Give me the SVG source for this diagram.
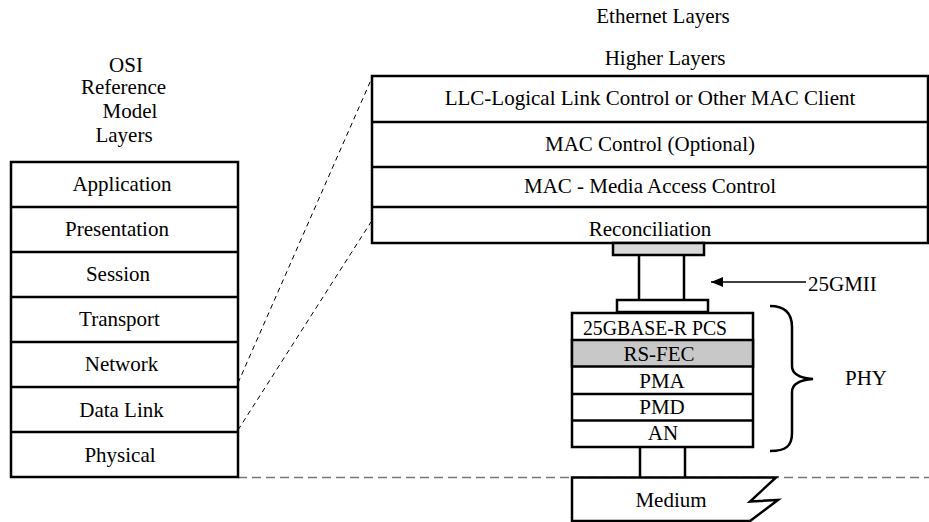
<svg xmlns="http://www.w3.org/2000/svg" width="929" height="522" viewBox="0 0 929 522">
<defs>
<style>
text{font-family:"Liberation Serif","Times New Roman",serif;font-size:21px;fill:#000}
.c{text-anchor:middle}
.box{fill:#fff;stroke:#000;stroke-width:2.5}
.ln{fill:none;stroke:#000;stroke-width:2.5}
.dash{fill:none;stroke:#000;stroke-width:1;stroke-dasharray:5,4}
.gdash{fill:none;stroke:#777;stroke-width:1.5;stroke-dasharray:9,5}
</style>
<marker id="ah" markerWidth="12" markerHeight="10" refX="12" refY="5" orient="auto" markerUnits="userSpaceOnUse">
<path d="M0,0 L12,5 L0,10 Z" fill="#000"/>
</marker>
</defs>
<rect width="929" height="522" fill="#fff"/>

<g id="titles">
<text x="663" y="23" class="c">Ethernet Layers</text>
<text x="665" y="65" class="c">Higher Layers</text>
<text x="126" y="72" class="c">OSI</text>
<text x="123.5" y="94" class="c">Reference</text>
<text x="130" y="118" class="c">Model</text>
<text x="124" y="142" class="c">Layers</text>
</g>

<g id="connectors">
<line class="dash" x1="238" y1="383" x2="371" y2="80"/>
<line class="dash" x1="238" y1="430" x2="371" y2="222"/>
<line class="gdash" x1="238" y1="477.5" x2="929" y2="477.5"/>
<line class="ln" x1="639" y1="255" x2="639" y2="300"/>
<line class="ln" x1="684" y1="255" x2="684" y2="300"/>
<line class="ln" x1="640" y1="447" x2="640" y2="477"/>
<line class="ln" x1="685" y1="447" x2="685" y2="477"/>
<line x1="806" y1="282" x2="711" y2="282" stroke="#000" stroke-width="1.5" marker-end="url(#ah)"/>
<text x="808" y="291">25GMII</text>
</g>

<g id="osi">
<rect class="box" x="11" y="162" width="227" height="315"/>
<path class="ln" d="M11,207H238M11,252H238M11,297H238M11,342H238M11,387H238M11,432H238"/>
<text x="122" y="191" class="c">Application</text>
<text x="117" y="236" class="c">Presentation</text>
<text x="118" y="281" class="c">Session</text>
<text x="119.5" y="326" class="c">Transport</text>
<text x="121.5" y="371" class="c">Network</text>
<text x="121.5" y="417" class="c">Data Link</text>
<text x="120" y="462" class="c">Physical</text>
</g>

<g id="ethernet">
<rect class="box" x="372" y="76" width="556" height="167"/>
<path class="ln" d="M372,122H928M372,167H928M372,207H928"/>
<text x="650" y="105" class="c">LLC-Logical Link Control or Other MAC Client</text>
<text x="650" y="151" class="c">MAC Control (Optional)</text>
<text x="650" y="193" class="c">MAC - Media Access Control</text>
<text x="650" y="236" class="c">Reconciliation</text>
</g>

<g id="gmii-top">
<rect x="613" y="243" width="91" height="12" fill="#d9d9d9" stroke="#000" stroke-width="2.5"/>
</g>
<g id="gmii-bottom">
<rect class="box" x="617" y="300" width="91" height="12"/>
</g>

<g id="phy">
<rect class="box" x="572" y="313" width="181" height="134"/>
<rect x="572" y="340" width="181" height="26.5" fill="#c8c8c8" stroke="#000" stroke-width="2.5"/>
<path class="ln" d="M572,394H753M572,420.5H753"/>
<text x="583" y="335" font-size="20" textLength="144" lengthAdjust="spacingAndGlyphs">25GBASE-R PCS</text>
<text x="659" y="361" class="c">RS-FEC</text>
<text x="662" y="388" class="c">PMA</text>
<text x="662" y="414" class="c">PMD</text>
<text x="663" y="440" class="c">AN</text>
</g>

<g id="phy-brace">
<path class="ln" d="M770,306 C786,306 792,314 792,327 L792,366 C792,374 800,378 813,379 C800,380 792,384 792,392 L792,433 C792,446 786,451 770,451"/>
<text x="845" y="385">PHY</text>
</g>

<g id="medium">
<path class="box" d="M572,477.5 L776,477.5 L750,501.5 L778,500 L750,521 L572,521 Z"/>
<text x="671" y="507" class="c">Medium</text>
</g>
</svg>
